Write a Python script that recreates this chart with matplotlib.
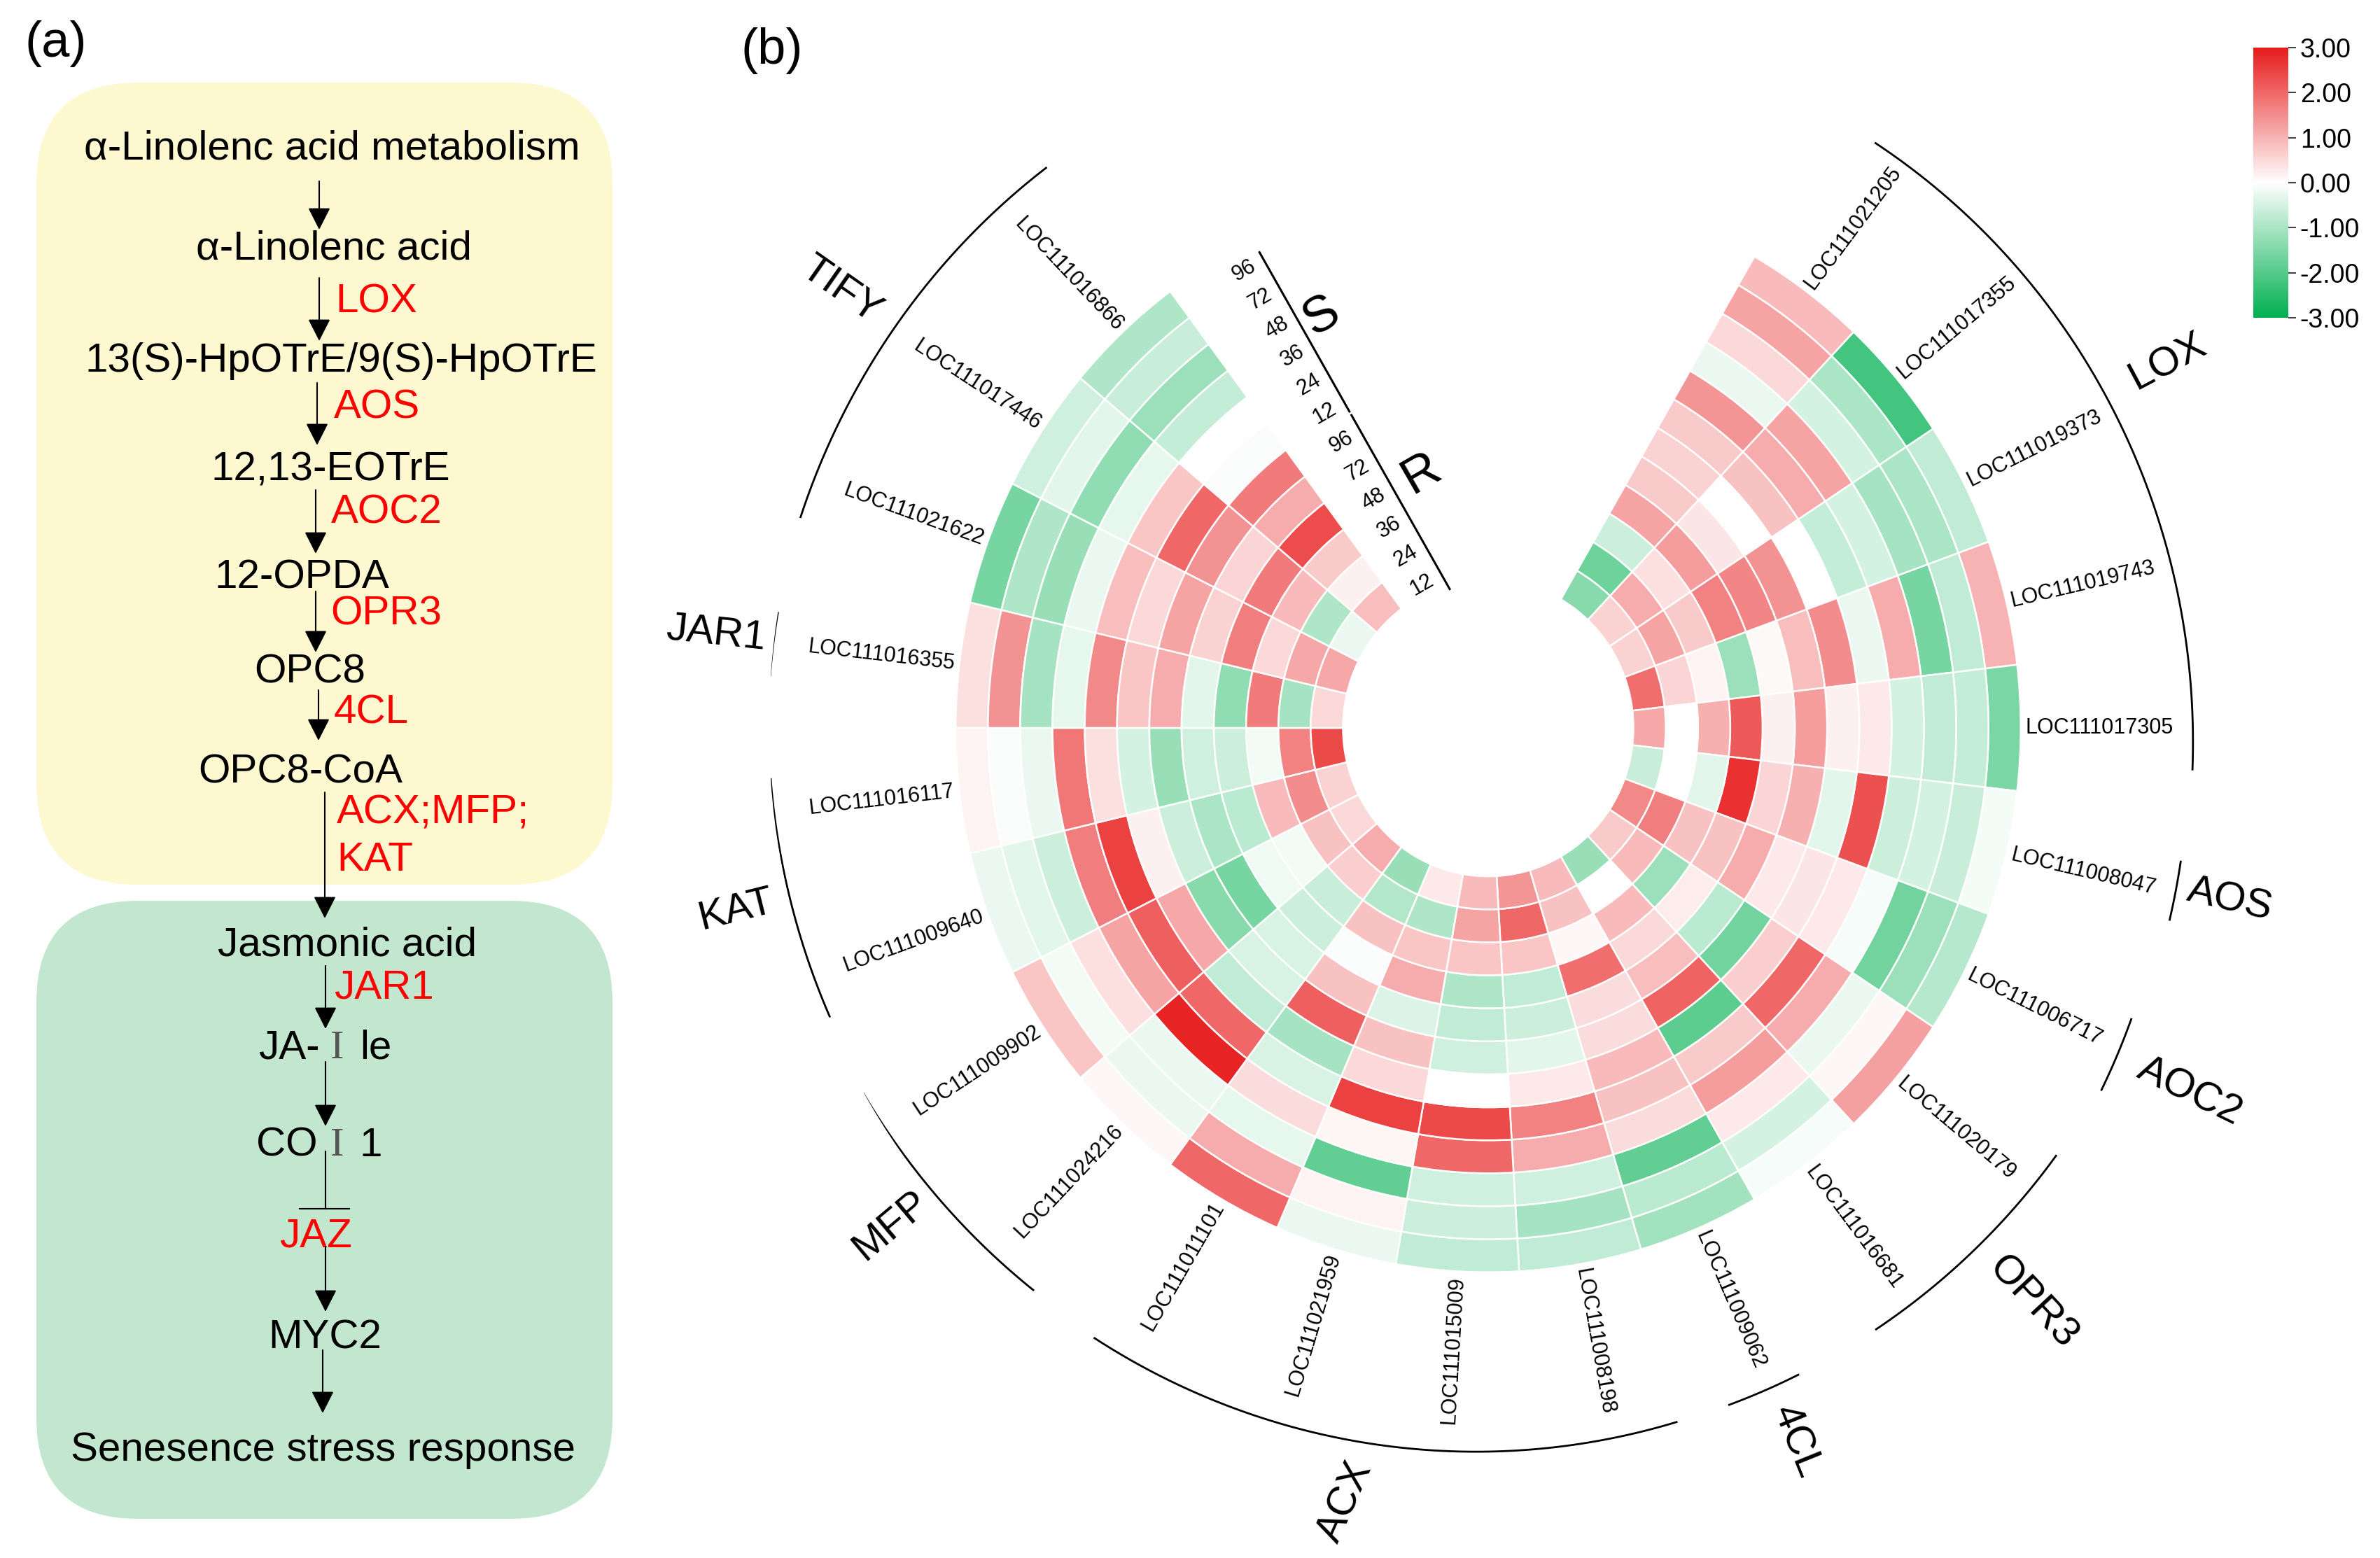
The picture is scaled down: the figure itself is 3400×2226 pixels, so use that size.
import numpy as np
import matplotlib
matplotlib.use("Agg")
import matplotlib.pyplot as plt
from matplotlib.colors import LinearSegmentedColormap, Normalize
from matplotlib.cm import ScalarMappable
from matplotlib.patches import FancyBboxPatch

plt.rcParams['font.family'] = ['Liberation Sans', 'DejaVu Sans']
plt.rcParams['axes.unicode_minus'] = False

W, H = 3400, 2226
CX, CY = 2126, 1040      # middle of the circular heatmap, in pixels
R_OUT, R_IN = 770, 210
SX, SY = 0.988, 1.01     # the circle is a little taller than wide

time_labels = ['96', '72', '48', '36', '24', '12']

# every list runs from the outer ring (S96) to the inner ring (R12)
loc21205 = [0.9, 1.2, 0.5, -0.25, 1.4, 0.7, 0.6, 0.7, 1.2, -0.6, -1.7, -1.4]
loc17355 = [-2.2, -1.0, -0.5, 1.2, 1.1, 0.8, 0.0, 0.35, 1.3, 0.4, 1.1, 0.6]
loc19373 = [-0.75, -1.0, -1.05, -0.5, -0.7, 0.0, 1.45, 1.6, 1.65, 0.7, 1.2, 0.6]
loc19743 = [1.0, -0.75, -1.6, 1.1, -0.25, 1.5, 0.85, 0.08, -1.15, 0.15, 0.55, 1.9]
loc17305 = [-1.55, -0.7, -0.75, -0.5, 0.3, 0.2, 1.3, 0.2, 2.2, 1.05, 0.0, 1.15]
loc08047 = [-0.12, -0.65, -0.5, -0.6, 2.3, -0.35, 1.05, 0.55, 2.7, -0.35, 0.0, -0.65]
loc06717 = [-0.85, -1.15, -1.65, -0.1, 0.3, 0.35, 0.3, 1.1, 0.8, 0.8, 1.7, 1.55]
loc20179 = [1.25, 0.1, -0.25, 1.1, 2.0, 0.65, -1.65, -0.8, 0.25, -1.15, 0.9, 0.7]
loc16681 = [-0.1, -0.5, 0.3, 1.3, 0.7, -1.9, 2.05, 0.85, 0.5, 0.9, 0.0, -1.2]
loc09062 = [-1.1, -0.8, -1.85, 0.45, 0.8, 0.9, 0.45, 0.45, 1.9, 0.1, 0.8, 0.9]
loc08198 = [-0.75, -1.05, -0.55, 1.1, 1.65, 0.3, -0.35, -0.6, -0.75, 0.75, 2.0, 1.4]
loc15009 = [-0.75, -0.6, -0.55, 2.0, 2.4, 0.0, -0.55, -0.75, -0.95, 0.75, 1.2, 0.9]
loc21959 = [-0.25, 0.15, -1.85, 0.12, 2.5, 0.5, 0.8, -0.4, 1.1, 0.75, -0.95, 0.3]
loc11101 = [2.0, 1.1, -0.3, 0.45, -0.45, -1.05, 2.1, 0.8, -0.05, 0.8, -0.9, -1.2]
loc24216 = [0.1, -0.25, -0.25, 2.9, 2.0, -0.75, -0.45, -0.45, -0.6, -0.65, 0.65, 1.1]
loc09902 = [0.75, -0.15, 0.4, 1.2, 2.1, 1.15, -1.4, -1.6, -0.2, -0.15, 0.8, 0.5]
loc09640 = [-0.25, -0.35, -0.6, 1.7, 2.5, 0.2, -0.6, -1.0, -0.8, 0.9, 1.5, 0.6]
loc16117 = [0.15, -0.05, -0.25, 1.8, 0.4, -0.5, -1.2, -0.55, -0.6, -0.15, 1.65, 2.4]
loc16355 = [0.4, 1.45, -1.05, -0.3, 1.55, 0.75, 1.1, -0.35, -1.3, 1.75, -1.05, 0.5]
loc21622 = [-1.6, -0.95, -1.2, -0.25, 0.85, 0.5, 1.2, 0.6, 1.7, 0.5, 1.15, 1.15]
loc17446 = [-0.55, -0.35, -1.3, -0.3, 0.75, 2.0, 1.45, 0.55, 1.75, 0.9, -0.95, -0.25]
loc16866 = [-0.95, -0.65, -1.15, -0.7, 0.0, -0.05, 1.75, 1.1, 2.35, 0.7, 0.2, 0.85]

genes = ['LOC111021205', 'LOC111017355', 'LOC111019373', 'LOC111019743', 'LOC111017305',
         'LOC111008047', 'LOC111006717', 'LOC111020179', 'LOC111016681', 'LOC111009062',
         'LOC111008198', 'LOC111015009', 'LOC111021959', 'LOC111011101', 'LOC111024216',
         'LOC111009902', 'LOC111009640', 'LOC111016117', 'LOC111016355', 'LOC111021622',
         'LOC111017446', 'LOC111016866']

values = np.array([loc21205, loc17355, loc19373, loc19743, loc17305, loc08047, loc06717, loc20179,
                   loc16681, loc09062, loc08198, loc15009, loc21959, loc11101, loc24216, loc09902,
                   loc09640, loc16117, loc16355, loc21622, loc17446, loc16866])

# name, arc start angle/end angle, arc start radius/end radius, label angle, label radius, label rotation
families = [('LOX', 34.1, 93.3, 999, 1020, 62.2, 1110, 28),
            ('AOS', 100.7, 105.4, 1019, 1022, 102.8, 1100, -13),
            ('AOC2', 113.9, 120, 1017, 1024, 116.9, 1137, -26),
            ('OPR3', 126.4, 146.6, 1020, 1019, 135.9, 1131, -47),
            ('4CL', 153.9, 160, 1019, 1019, 156.2, 1104, -68),
            ('ACX', 164.5, 213.4, 1019, 1034, 190.7, 1114, 66),
            ('MFP', 219.6, 240.2, 1032, 1041, 230.8, 1114, 40),
            ('KAT', 246.8, 266, 1036, 1040, 256.7, 1118, 14),
            ('JAR1', 274.1, 279, 1041, 1040, 276.8, 1125, -6),
            ('TIFY', 286.7, 321.1, 1038, 1018, 303.5, 1121, -35)]

cmap = LinearSegmentedColormap.from_list('gwr', ['#00B050', '#FFFFFF', '#E71C1C'])
norm = Normalize(-3, 3)

fig = plt.figure(figsize=(W / 100, H / 100), dpi=100)

# pixel canvas for panel (a)
bg = fig.add_axes([0, 0, 1, 1])
bg.set_xlim(0, W)
bg.set_ylim(H, 0)
bg.axis('off')


def box(x0, y0, x1, y1, color):
    rad = 145
    bg.add_patch(FancyBboxPatch((x0 + rad, y0 + rad), x1 - x0 - 2 * rad, y1 - y0 - 2 * rad,
                                boxstyle=f'round,pad={rad},rounding_size={rad}',
                                fc=color, ec='none'))


def arrow(x, y0, y1):
    bg.annotate('', xy=(x, y1), xytext=(x, y0),
                arrowprops=dict(arrowstyle='-|>,head_length=0.65,head_width=0.33', color='black',
                                lw=1.5, shrinkA=0, shrinkB=0, mutation_scale=30))


box(52, 118, 875, 1264, '#FEF8D0')
box(52, 1287, 875, 2170, '#C3E6CE')

S = 2.168  # the layout below was read at 1/2.168 scale
DY = 4     # text sits a few pixels under the read centre
FS = 42
black_text = [('α-Linolenc acid metabolism', 219, 96), ('α-Linolenc acid', 220, 162),
              ('13(S)-HpOTrE/9(S)-HpOTrE', 225, 236), ('12,13-EOTrE', 218, 308),
              ('12-OPDA', 199, 379), ('OPC8', 204, 441), ('OPC8-CoA', 198, 507),
              ('Jasmonic acid', 229, 621), ('MYC2', 214, 880),
              ('Senesence stress response', 213, 954)]
for txt, x, y in black_text:
    bg.text(x * S, y * S + DY, txt, fontsize=FS, ha='center', va='center')

red_text = [('LOX', 221, 197), ('AOS', 220, 267), ('AOC2', 218, 336), ('OPR3', 218, 403),
            ('4CL', 220, 468), ('ACX;MFP;', 222, 534), ('KAT', 222, 565), ('JAR1', 220, 649)]
for txt, x, y in red_text:
    bg.text(x * S, y * S + DY, txt, fontsize=FS, color='#FF0000', ha='left', va='center')
bg.text(208 * S, 813 * S + DY, 'JAZ', fontsize=FS, color='#FF0000', ha='center', va='center')

# JA-Ile and COI1 carry a thin serif I in the middle
bg.text(170 * S, 689 * S + DY, 'JA-', fontsize=FS, ha='left', va='center')
bg.text(222 * S, 689 * S + DY, 'I', fontsize=FS, ha='center', va='center', family='Liberation Serif', color='#555555')
bg.text(237 * S, 689 * S + DY, 'le', fontsize=FS, ha='left', va='center')
bg.text(169 * S, 753 * S + DY, 'CO', fontsize=FS, ha='left', va='center')
bg.text(222 * S, 753 * S + DY, 'I', fontsize=FS, ha='center', va='center', family='Liberation Serif', color='#555555')
bg.text(237 * S, 753 * S + DY, '1', fontsize=FS, ha='left', va='center')

bg.text(80, 63, '(a)', fontsize=52, ha='center', va='center')
bg.text(1103, 73, '(b)', fontsize=52, ha='center', va='center')

arrow(456, 259, 328)
arrow(456, 397, 487)
arrow(453, 547, 636)
arrow(451, 700, 791)
arrow(451, 845, 932)
arrow(455, 986, 1058)
arrow(464, 1132, 1312)
arrow(465, 1380, 1470)
arrow(465, 1517, 1609)
bg.plot([465, 465], [1645, 1727], color='black', lw=1.5)
bg.plot([428, 499], [1727, 1727], color='black', lw=1.5)
arrow(465, 1781, 1874)
arrow(461, 1929, 2019)

# panel (b): polar axes whose radius unit is about one pixel
RMAX = 1040
hw, hh = RMAX * SX, RMAX * SY
ax = fig.add_axes([(CX - hw) / W, 1 - (CY + hh) / H, 2 * hw / W, 2 * hh / H], projection='polar')
ax.set_aspect('auto')
ax.set_theta_zero_location('N')
ax.set_theta_direction(-1)
ax.set_ylim(0, RMAX)
ax.axis('off')

n_genes, n_rings = values.shape
step = 360 / 27
start = 30
ring_w = (R_OUT - R_IN) / n_rings
thetas = np.radians(start + step * (np.arange(n_genes) + 0.5))
bottoms = R_OUT - ring_w * (np.arange(n_rings) + 1)
for g in range(n_genes):
    ax.bar(np.full(n_rings, thetas[g]), ring_w, width=np.radians(step), bottom=bottoms,
           color=cmap(norm(values[g])), edgecolor='white', linewidth=1.8)


def flip_rot(deg):
    # radial text, kept readable on the left half
    return (90 - deg, 'left') if deg < 180 else (270 - deg, 'right')


for g, name in enumerate(genes):
    deg = start + step * (g + 0.5)
    rot, ha = flip_rot(deg)
    ax.text(thetas[g], 777, name, fontsize=22, rotation=rot, rotation_mode='anchor',
            ha=ha, va='center')

for name, a0, a1, r0, r1, deg, rad, rot in families:
    ax.plot(np.radians(np.linspace(a0, a1, 80)), np.linspace(r0, r1, 80), color='black', lw=2)
    ax.text(np.radians(deg), rad, name, fontsize=42, rotation=rot, rotation_mode='anchor',
            ha='center', va='center')


def gap_point(along, perp):
    # position measured along the 330 degree direction and square to it
    x = -along * 0.5 + perp * np.cos(np.radians(30))
    y = along * np.cos(np.radians(30)) + perp * 0.5
    return np.arctan2(x, y), np.hypot(x, y)


ring_mid = bottoms + ring_w / 2
for i, lab in enumerate(time_labels * 2):
    t, r = gap_point(ring_mid[i] - 10, 18)
    ax.text(t, r, lab, fontsize=22, rotation=30, ha='center', va='center', rotation_mode='anchor')

for a0, a1 in [(748, 488), (482, 198)]:
    pts = [gap_point(a0 + (a1 - a0) * u, 50) for u in np.linspace(0, 1, 40)]
    ax.plot([q[0] for q in pts], [q[1] for q in pts], color='black', lw=2.2)

for lab, a, p in [('S', 625, 83), ('R', 360, 96)]:
    t, r = gap_point(a, p)
    ax.text(t, r, lab, fontsize=52, rotation=30, ha='center', va='center', rotation_mode='anchor')

# colour bar
cax = fig.add_axes([3219 / W, 1 - 454 / H, 50 / W, 386 / H])
cb = fig.colorbar(ScalarMappable(norm=norm, cmap=cmap), cax=cax, ticks=[3, 2, 1, 0, -1, -2, -3])
cb.ax.set_yticklabels(['3.00', '2.00', '1.00', '0.00', '-1.00', '-2.00', '-3.00'], fontsize=27)
cb.ax.tick_params(length=8, width=1.5, pad=4, color='#444444')
cb.outline.set_visible(False)

fig.savefig('out.png', dpi=100)
